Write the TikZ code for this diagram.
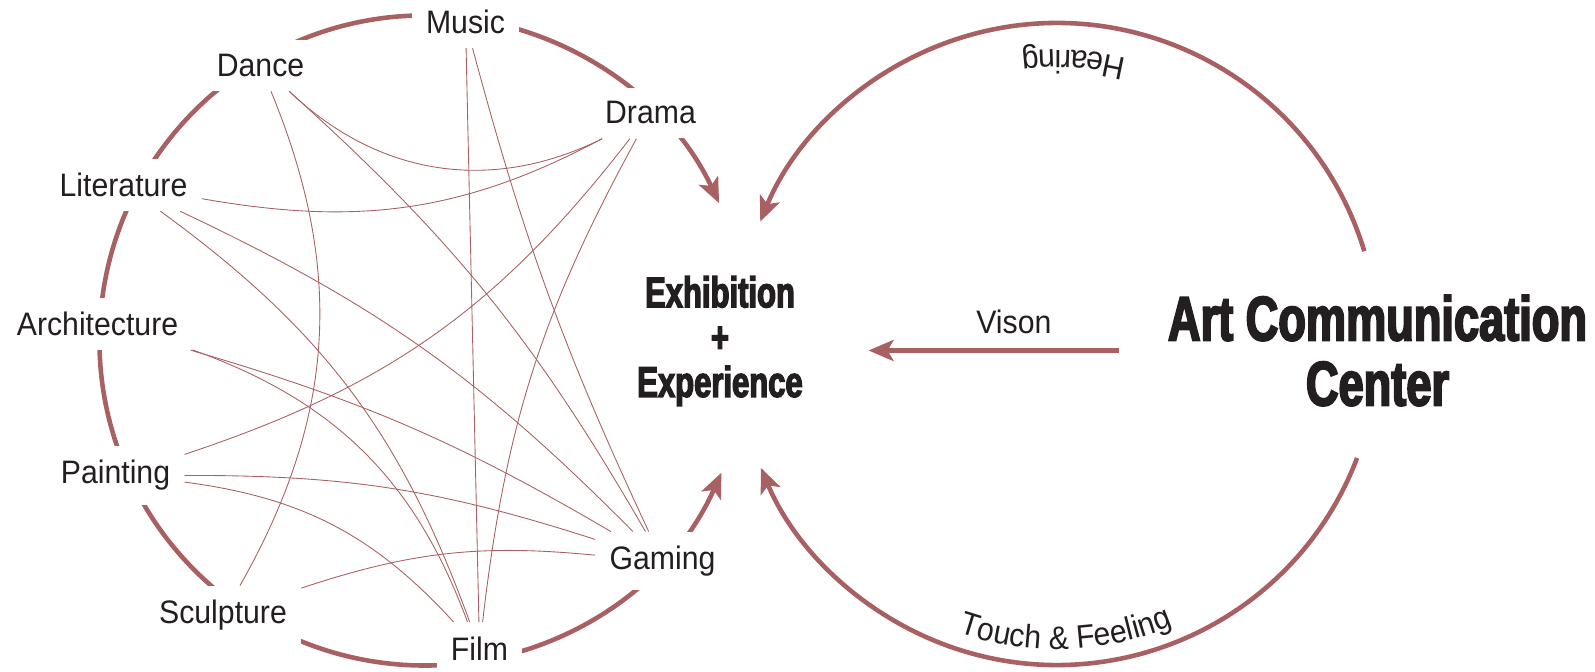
\documentclass[tikz,border=0pt]{standalone}
\usepackage{fontspec}
\usepackage{tikz}
\usetikzlibrary{arrows.meta,decorations.text}
\newfontfamily\lightsans[FakeStretch=0.93]{Liberation Sans}
\newfontfamily\heavysans[FakeStretch=0.72,FakeBold=3]{Liberation Sans Bold}
\newcommand\artfont{\lightsans\fontsize{18.5}{22}\selectfont}
\definecolor{ringred}{RGB}{168,96,98}
\definecolor{inkgray}{RGB}{35,31,32}
\tikzset {
	art/.style={font=\artfont, text=inkgray, fill=white, inner sep=8pt, anchor=base},
	hub/.style={text=inkgray, align=center, inner sep=0pt},
	link/.style={draw=ringred, line width=0.5pt},
	flow/.style={draw=ringred, line width=2.6pt, -{Stealth[length=0.5cm, width=0.42cm, inset=0.12cm]}},
	sense/.style={decorate, decoration={text along path, text align=center, text color=inkgray, text={|\artfont|#1}}},
	spreadsense/.style={decorate, decoration={text along path, text align={fit to path}, text color=inkgray, text={|\artfont|#1}}}
}

\begin{document}
\begin{tikzpicture}
	\useasboundingbox (0,0) rectangle (31.9,13.42);
	\coordinate (lc) at (8.49,6.61);
	\coordinate (rc) at (21.14,6.54);

	\draw[flow] ([shift={(83:6.5)}]lc) arc[start angle=83, end angle=25, radius=6.5];
	\draw[flow] ([shift={(83:6.5)}]lc) arc[start angle=83, end angle=336, radius=6.5];

	\node[art] (music) at (9.31,12.75) {Music};
	\node[art] (dance) at (5.21,11.89) {Dance};
	\node[art] (drama) at (13.01,10.94) {Drama};
	\node[art] (literature) at (2.47,9.49) {Literature};
	\node[art] (architecture) at (1.95,6.71) {Architecture};
	\node[art] (painting) at (2.31,3.74) {Painting};
	\node[art] (sculpture) at (4.46,0.95) {Sculpture};
	\node[art] (film) at (9.59,0.22) {Film};
	\node[art] (gaming) at (13.25,2.03) {Gaming};
	\node[hub, font=\heavysans\fontsize{24.5}{25.5}\selectfont] (exh) at (14.40,6.60) {Exhibition\\+\\Experience};
	\node[hub, font=\heavysans\fontsize{35.7}{37}\selectfont] (acc) at (27.55,6.41) {Art Communication\\Center};

	\draw[link] (dance) to[bend right=35] (drama);
	\draw[link] (literature) to[out=-10, in=208] (drama);
	\draw[link] (dance) to[bend left=26] (sculpture);
	\draw[link] (dance) to[bend left=9] (gaming);
	\draw[link] (music) -- (film);
	\draw[link] (music) to[bend right=5] (gaming);
	\draw[link] (drama) to[bend left=17] (painting);
	\draw[link] (drama) to[bend right=11] (film);
	\draw[link] (literature) to[bend left=10] (gaming);
	\draw[link] (literature) to[bend left=17] (film);
	\draw[link] (architecture) to[bend left=7] (gaming);
	\draw[link] (architecture) to[bend left=25] (film);
	\draw[link] (painting) to[bend left=20] (film);
	\draw[link] (painting) to[bend left=9] (gaming);
	\draw[link] (sculpture) to[bend left=12] (gaming);

	\draw[flow] ([shift={(16.8:6.42)}]rc) arc[start angle=16.8, end angle=157.6, radius=6.42];
	\draw[flow] ([shift={(-20.8:6.42)}]rc) arc[start angle=-20.8, end angle=-157.3, radius=6.42];
	\path[sense=Hearing] ([shift={(36.7:5.88)}]rc) arc[start angle=36.7, end angle=136.7, radius=5.88];
	\path[spreadsense={Touch {\&} Feeling}] ([shift={(-108.9:6.10)}]rc) arc[start angle=-108.9, end angle=-68.1, radius=6.10];
	\draw[flow] ([xshift=-0.97cm]acc.west) -- node[art, pos=0.42, yshift=0.34cm] {Vison} ([xshift=1.31cm]acc.west -| exh.east);
\end{tikzpicture}
\end{document}
